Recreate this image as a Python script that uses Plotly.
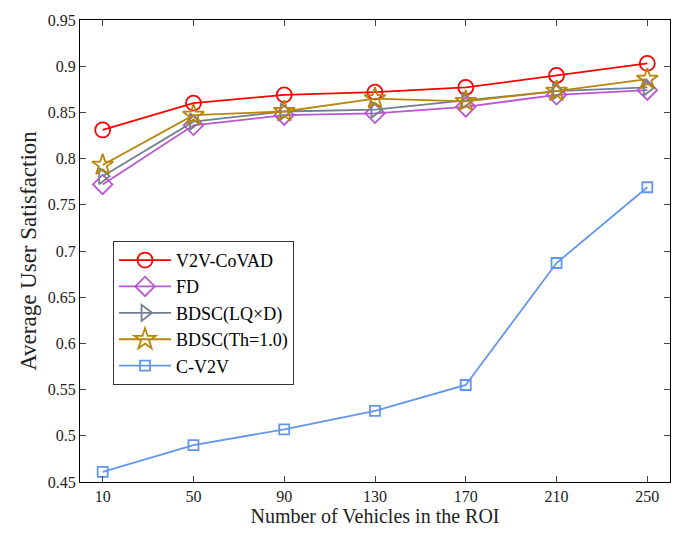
import plotly.graph_objects as go

x_vals = [10, 50, 90, 130, 170, 210, 250]
v2v_covad = [0.831, 0.860, 0.869, 0.872, 0.877, 0.890, 0.903]
fd = [0.772, 0.836, 0.847, 0.849, 0.856, 0.869, 0.874]
bdsc_lqd = [0.781, 0.840, 0.851, 0.853, 0.863, 0.873, 0.877]
bdsc_th = [0.793, 0.847, 0.851, 0.865, 0.862, 0.873, 0.886]
c_v2v = [0.461, 0.490, 0.507, 0.527, 0.555, 0.687, 0.769]

series = [
    ("V2V-CoVAD", v2v_covad, "#FF0000", "circle-open", 15),
    ("FD", fd, "#BA55D3", "diamond-open", 15),
    ("BDSC(LQ×D)", bdsc_lqd, "#708090", "triangle-right-open", 14),
    ("BDSC(Th=1.0)", bdsc_th, "#B8860B", "star-open", 16),
    ("C-V2V", c_v2v, "#6495ED", "square-open", 10),
]

fig = go.Figure()
for name, ys, color, sym, size in series:
    fig.add_trace(go.Scatter(
        x=x_vals, y=ys, name=name, mode="lines+markers",
        line=dict(color=color, width=1.8),
        marker=dict(symbol=sym, size=size, color=color, line=dict(width=1.8, color=color)),
    ))

font = "Times New Roman, Liberation Serif, serif"
fig.update_layout(
    width=685, height=537,
    margin=dict(l=80, r=15, t=15, b=55),
    plot_bgcolor="white", paper_bgcolor="white",
    font=dict(family=font, size=16, color="#222"),
    showlegend=True,
    legend=dict(
        x=0.056, y=0.522, xanchor="left", yanchor="top",
        bgcolor="white", bordercolor="#333", borderwidth=1,
        font=dict(family=font, size=18, color="black"),
        tracegroupgap=0, itemwidth=52,
    ),
    xaxis=dict(
        range=[0, 260], tickvals=x_vals, ticktext=[str(v) for v in x_vals],
        ticks="inside", ticklen=6, showline=True, linecolor="black", linewidth=1,
        mirror="ticks", showgrid=False, zeroline=False,
        tickfont=dict(family=font, size=16, color="#222"),
        title=dict(text="Number of Vehicles in the ROI", font=dict(family=font, size=20, color="#222"), standoff=4),
    ),
    yaxis=dict(
        range=[0.45, 0.95], dtick=0.05, tickformat="~g",
        ticks="inside", ticklen=6, showline=True, linecolor="black", linewidth=1,
        mirror="ticks", showgrid=False, zeroline=False,
        tickfont=dict(family=font, size=16, color="#222"),
        title=dict(text="Average User Satisfaction", font=dict(family=font, size=23, color="#222"), standoff=4),
    ),
)

fig.write_html("out.html")
